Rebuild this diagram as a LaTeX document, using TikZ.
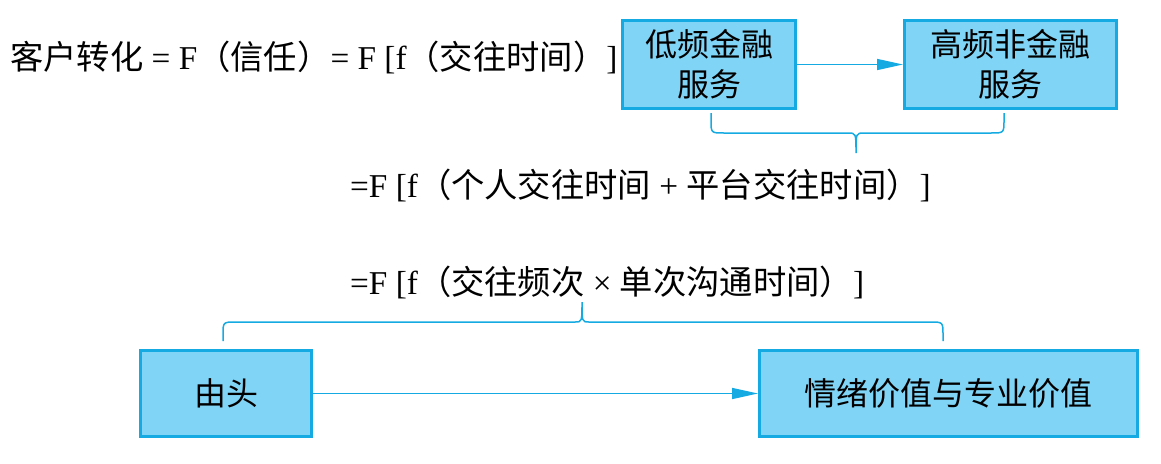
\documentclass[tikz,border=0pt]{standalone}
\usepackage{fontspec}
\setmainfont{Liberation Serif}
\newfontfamily\cjk{Noto Sans CJK SC}
\usetikzlibrary{arrows.meta}
\definecolor{boxfill}{RGB}{128,212,246}
\definecolor{boxline}{RGB}{22,170,226}
\newcommand\bigtxt{\fontsize{32pt}{40pt}\selectfont}
\newcommand\eqtxt{\fontsize{33.3pt}{40pt}\selectfont}
\newcommand\zhtxt[1]{{\cjk #1}}
\tikzset{
    fbox/.style={draw=boxline,fill=boxfill,line width=3pt,align=center,font=\cjk\bigtxt,inner sep=0pt},
    flow/.style={draw=boxline,line width=1.5pt,-{Triangle[length=26pt,width=11pt]}},
    curly/.style={draw=boxline,line width=1.5pt},
    eq/.style={inner sep=0pt,anchor=base west,font=\eqtxt}
}

\begin{document}
\begin{tikzpicture}[x=1pt,y=-1pt]
            \useasboundingbox (0,0) rectangle (1161,463);
            \node[eq] (conv) at (10,69) {\zhtxt{客户转化} = F\zhtxt{（信任）}= F [f\zhtxt{（交往时间）}]};
            \node[eq] (sum) at (350,197) {=F [f\zhtxt{（个人交往时间} + \zhtxt{平台交往时间）}]};
            \node[eq] (prod) at (350,294) {=F [f\zhtxt{（交往频次} × \zhtxt{单次沟通时间）}]};
            \node[fbox,minimum width=173pt,minimum height=88pt] (lo) at (709,64.5) {低频金融\\服务};
            \node[fbox,minimum width=212pt,minimum height=88pt] (hi) at (1010.5,64.5) {高频非金融\\服务};
            \node[fbox,minimum width=171pt,minimum height=86pt] (cue) at (226,393.5) {由头};
            \node[fbox,minimum width=378pt,minimum height=86pt] (val) at (948.5,393.5) {情绪价值与专业价值};
            \draw[flow] (lo) -- (hi);
            \draw[flow] (cue) -- (val);
            \coordinate (b1l) at (711,113);
            \coordinate (b1r) at (1004,113);
            \coordinate (b1t) at (856,153);
            \draw[curly] (b1l) -- (711,120) .. controls (711,133) .. (724,133) -- (848,133)
                .. controls (856,133) .. (b1t) .. controls (856,133) .. (864,133) -- (991,133)
                .. controls (1004,133) .. (1004,120) -- (b1r);
            \coordinate (b2l) at (223,341);
            \coordinate (b2r) at (943,341);
            \coordinate (b2t) at (582,302);
            \draw[curly] (b2l) -- (223,335) .. controls (223,322) .. (236,322) -- (575,322)
                .. controls (582,322) .. (b2t) .. controls (582,322) .. (589,322) -- (930,322)
                .. controls (943,322) .. (943,335) -- (b2r);
        \end{tikzpicture}
\end{document}
